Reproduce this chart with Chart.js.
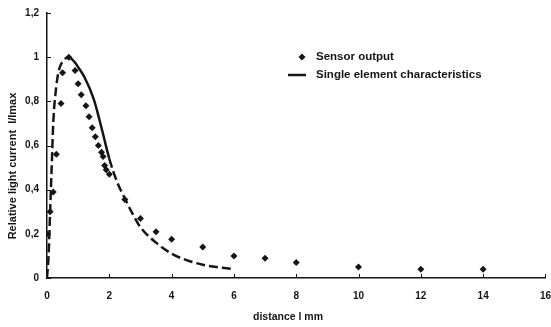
<!DOCTYPE html>
<html>
<head>
<meta charset="utf-8">
<script src="https://cdn.jsdelivr.net/npm/chart.js@4/dist/chart.umd.min.js"></script>
<style>
  html, body { margin: 0; padding: 0; background: #fff; }
  #wrap { width: 551px; height: 327px; }
</style>
</head>
<body>
<div id="wrap"><canvas id="myChart" width="551" height="327"></canvas></div>
<script>
// Sensor output (diamond markers)
var sensorX = [0, 0.1, 0.2, 0.3, 0.45, 0.5, 0.7, 0.9, 1.0, 1.1, 1.25, 1.35, 1.45, 1.55, 1.65, 1.75, 1.8, 1.85, 1.9, 2.0, 2.5, 3, 3.5, 4, 5, 6, 7, 8, 10, 12, 14];
var sensorY = [0.2, 0.3, 0.39, 0.56, 0.79, 0.93, 1.0, 0.94, 0.88, 0.83, 0.78, 0.73, 0.68, 0.64, 0.6, 0.57, 0.55, 0.51, 0.49, 0.47, 0.355, 0.27, 0.21, 0.175, 0.14, 0.1, 0.09, 0.07, 0.05, 0.04, 0.04];

// Single element characteristics (line)
var singleX = [0, 0.05, 0.1, 0.15, 0.2, 0.3, 0.4, 0.5, 0.7, 0.9, 1.0, 1.2, 1.5, 1.75, 2.0, 2.25, 2.5, 2.75, 3.0, 3.5, 4.0, 4.5, 5.0, 5.5, 6.0];
var singleY = [0, 0.1, 0.3, 0.5, 0.7, 0.87, 0.95, 0.98, 1.0, 0.975, 0.955, 0.91, 0.81, 0.68, 0.54, 0.435, 0.36, 0.29, 0.23, 0.16, 0.11, 0.08, 0.06, 0.048, 0.04];

// tick labels
var xTickLabels = ["0", "2", "4", "6", "8", "10", "12", "14", "16"];
var yTickLabels = ["0", "0,2", "0,4", "0,6", "0,8", "1", "1,2"];

var legendNames = ["Sensor output", "Single element characteristics"];
var xTitle = "distance l mm";
var yTitle = "Relative light current  I/Imax";

var ink = "#151515";
var fontFamily = "'Liberation Sans', Arial, sans-serif";

function toPoints(xs, ys) {
    let pts = [];
    for (let i = 0; i < xs.length; i++) {
        pts.push({ x: xs[i], y: ys[i] });
    }
    return pts;
}

// legend, axis titles and inward tick marks, placed like the scanned figure
var extraText = {
    id: "extraText",
    afterDraw(chart) {
        let ctx = chart.ctx;
        let xs = chart.scales.x, ys = chart.scales.y;
        let area = chart.chartArea;
        ctx.save();
        ctx.fillStyle = ink;
        ctx.strokeStyle = ink;

        // tick marks pointing into the plot
        ctx.lineWidth = 1;
        ctx.beginPath();
        xs.ticks.forEach(t => {
            let px = Math.round(xs.getPixelForValue(t.value)) + 0.5;
            ctx.moveTo(px, area.bottom);
            ctx.lineTo(px, area.bottom - 4);
        });
        ys.ticks.forEach(t => {
            let py = Math.round(ys.getPixelForValue(t.value)) + 0.5;
            ctx.moveTo(area.left, py);
            ctx.lineTo(area.left + 4, py);
        });
        ctx.stroke();

        // diamond
        let dx = 302, dy = 57;
        ctx.beginPath();
        ctx.moveTo(dx, dy - 3.5);
        ctx.lineTo(dx + 3.5, dy);
        ctx.lineTo(dx, dy + 3.5);
        ctx.lineTo(dx - 3.5, dy);
        ctx.closePath();
        ctx.fill();
        // line
        ctx.lineWidth = 2.5;
        ctx.beginPath();
        ctx.moveTo(288, 75);
        ctx.lineTo(306, 75);
        ctx.stroke();
        ctx.font = "bold 11.5px " + fontFamily;
        ctx.textBaseline = "middle";
        ctx.fillText(legendNames[0], 316, 57);
        ctx.fillText(legendNames[1], 316, 75);

        // axis titles
        ctx.font = "bold 10.5px " + fontFamily;
        ctx.textAlign = "center";
        ctx.fillText(xTitle, 288, 317);
        ctx.translate(13, 166);
        ctx.rotate(-Math.PI / 2);
        ctx.font = "bold 11px " + fontFamily;
        ctx.fillText(yTitle, 0, 0);
        ctx.restore();
    }
};

var tickFont = { family: fontFamily, size: 10, weight: "bold" };

var config = {
    type: "scatter",
    data: {
        datasets: [
            {
                label: legendNames[0],
                data: toPoints(sensorX, sensorY),
                pointStyle: "rectRot",
                pointRadius: 3.5,
                backgroundColor: ink,
                borderColor: ink,
                borderWidth: 0,
                showLine: false
            },
            {
                label: legendNames[1],
                data: toPoints(singleX, singleY),
                showLine: true,
                pointRadius: 0,
                borderColor: ink,
                borderWidth: 2.5,
                borderDash: [9, 4],
                cubicInterpolationMode: "monotone",
                segment: {
                    // solid stretch on the falling edge near the peak
                    borderDash: ctx => (ctx.p0.parsed.x >= 0.7 && ctx.p1.parsed.x <= 2.0) ? [] : [9, 4]
                }
            }
        ]
    },
    options: {
        responsive: false,
        animation: false,
        layout: { padding: { top: 13, right: 0, left: 0, bottom: 0 } },
        plugins: {
            legend: { display: false },
            tooltip: { enabled: false }
        },
        scales: {
            x: {
                type: "linear",
                min: 0,
                max: 16,
                border: { color: ink, width: 1.5 },
                grid: { drawOnChartArea: false, drawTicks: true, tickLength: 12, tickColor: "rgba(0,0,0,0)" },
                ticks: {
                    stepSize: 2,
                    color: ink,
                    font: tickFont,
                    padding: 0,
                    maxRotation: 0,
                    callback: (v, i) => xTickLabels[i]
                },
                afterFit: scale => { scale.height = 49; }
            },
            y: {
                min: 0,
                max: 1.2,
                border: { color: ink, width: 1.5 },
                grid: { drawOnChartArea: false, drawTicks: true, tickLength: 8, tickColor: "rgba(0,0,0,0)" },
                ticks: {
                    stepSize: 0.2,
                    color: ink,
                    font: tickFont,
                    padding: 0,
                    callback: (v, i) => yTickLabels[i]
                },
                afterFit: scale => { scale.width = 47; }
            }
        }
    },
    plugins: [extraText]
};

var myChart = new Chart(document.getElementById("myChart"), config);
</script>
</body>
</html>
